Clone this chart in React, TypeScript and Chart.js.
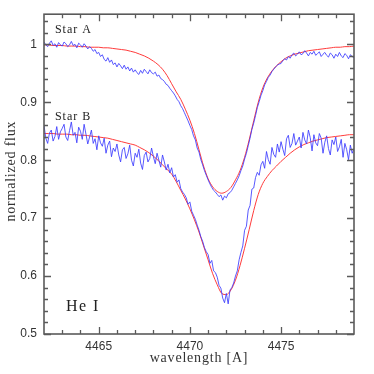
import React, { useEffect, useRef } from "react";
import { Chart, registerables } from "chart.js";

Chart.register(...registerables);

// wavelength grid of the observed spectra and of the model fits
const WAVE_START = 4462.0;
const OBS_STEP = 0.1;
const MODEL_STEP = 0.25;

// observed normalized flux, Star A (4462.0 .. 4479.0, every 0.1 A)
const starAObserved = [
  1.004, 0.999, 0.996, 1.002, 1.006, 0.998, 1.001, 0.995, 1.003, 0.999,
  0.997, 1.004, 1.001, 0.996, 0.999, 1.005, 0.998, 1.000, 0.994, 1.002,
  0.999, 0.995, 1.001, 0.997, 0.992, 0.996, 0.993, 0.988, 0.991, 0.984,
  0.986, 0.979, 0.982, 0.974, 0.971, 0.977, 0.969, 0.973, 0.965, 0.968,
  0.961, 0.967, 0.963, 0.958, 0.964, 0.957, 0.961, 0.954, 0.959, 0.952,
  0.956, 0.951, 0.948, 0.955, 0.950, 0.957, 0.953, 0.949, 0.956, 0.951,
  0.949, 0.952, 0.945, 0.947, 0.941, 0.939, 0.936, 0.931, 0.929, 0.924,
  0.920, 0.916, 0.911, 0.905, 0.901, 0.894, 0.889, 0.882, 0.875, 0.868,
  0.860, 0.853, 0.842, 0.835, 0.821, 0.814, 0.801, 0.792, 0.782, 0.774,
  0.766, 0.759, 0.753, 0.748, 0.745, 0.741, 0.737, 0.740, 0.731, 0.738,
  0.735, 0.742, 0.744, 0.748, 0.754, 0.760, 0.766, 0.773, 0.782, 0.790,
  0.802, 0.812, 0.825, 0.838, 0.853, 0.864, 0.877, 0.891, 0.901, 0.912,
  0.920, 0.930, 0.936, 0.943, 0.947, 0.953, 0.957, 0.961, 0.964, 0.966,
  0.967, 0.972, 0.975, 0.973, 0.979, 0.976, 0.982, 0.985, 0.980, 0.983,
  0.987, 0.982, 0.984, 0.989, 0.985, 0.980, 0.986, 0.983, 0.988, 0.981,
  0.984, 0.987, 0.979, 0.983, 0.986, 0.981, 0.978, 0.985, 0.982, 0.976,
  0.983, 0.979, 0.986, 0.980, 0.977, 0.984, 0.981, 0.975, 0.982, 0.979,
  0.977,
];

// observed normalized flux, Star B (4462.0 .. 4479.0, every 0.1 A)
const starBObserved = [
  0.860, 0.838, 0.829, 0.847, 0.852, 0.833, 0.841, 0.858, 0.836, 0.849,
  0.855, 0.862, 0.840, 0.834, 0.851, 0.866, 0.843, 0.848, 0.830, 0.857,
  0.850, 0.836, 0.862, 0.845, 0.828, 0.840, 0.852, 0.829, 0.837, 0.818,
  0.842, 0.830, 0.824, 0.838, 0.812, 0.826, 0.833, 0.806, 0.821, 0.815,
  0.828, 0.809, 0.797, 0.818, 0.822, 0.803, 0.811, 0.826, 0.800, 0.790,
  0.812, 0.805, 0.819, 0.795, 0.784, 0.808, 0.814, 0.797, 0.803, 0.821,
  0.806, 0.794, 0.812, 0.800, 0.788, 0.809, 0.797, 0.783, 0.793, 0.778,
  0.787, 0.771, 0.775, 0.762, 0.766, 0.751, 0.745, 0.741, 0.735, 0.724,
  0.728, 0.712, 0.705, 0.698, 0.688, 0.679, 0.668, 0.660, 0.649, 0.642,
  0.637, 0.622, 0.627, 0.609, 0.606, 0.598, 0.584, 0.579, 0.562, 0.554,
  0.570, 0.552, 0.576, 0.580, 0.588, 0.600, 0.609, 0.628, 0.641, 0.652,
  0.679, 0.686, 0.714, 0.722, 0.750, 0.752, 0.770, 0.779, 0.774, 0.792,
  0.798, 0.786, 0.815, 0.801, 0.793, 0.822, 0.810, 0.805, 0.828, 0.814,
  0.832, 0.819, 0.808, 0.837, 0.843, 0.822, 0.829, 0.846, 0.826, 0.833,
  0.840, 0.821, 0.848, 0.835, 0.828, 0.852, 0.839, 0.816, 0.844, 0.830,
  0.825, 0.846, 0.838, 0.812, 0.831, 0.842, 0.820, 0.809, 0.835, 0.827,
  0.840, 0.815, 0.823, 0.836, 0.805, 0.829, 0.818, 0.801, 0.826, 0.812,
  0.820,
];

// model fit, Star A (4462.0 .. 4479.0, every 0.25 A)
const starAModel = [
  0.999, 0.999, 0.998, 0.998, 0.998, 0.997, 0.997, 0.997, 0.996, 0.996,
  0.995, 0.995, 0.995, 0.994, 0.994, 0.993, 0.992, 0.991, 0.990, 0.988,
  0.986, 0.983, 0.980, 0.976, 0.971, 0.965, 0.957, 0.946, 0.932, 0.918,
  0.905, 0.888, 0.869, 0.846, 0.818, 0.790, 0.768, 0.754, 0.746, 0.743,
  0.746, 0.753, 0.766, 0.782, 0.805, 0.835, 0.868, 0.900, 0.925, 0.942,
  0.954, 0.963, 0.970, 0.976, 0.980, 0.983, 0.985, 0.987, 0.989, 0.990,
  0.991, 0.992, 0.993, 0.994, 0.995, 0.995, 0.996, 0.996, 0.997,
];

// model fit, Star B (4462.0 .. 4479.0, every 0.25 A)
const starBModel = [
  0.846, 0.846, 0.846, 0.845, 0.845, 0.845, 0.844, 0.844, 0.843, 0.843,
  0.842, 0.841, 0.840, 0.839, 0.838, 0.836, 0.834, 0.832, 0.830, 0.828,
  0.826, 0.822, 0.818, 0.813, 0.807, 0.800, 0.792, 0.784, 0.776, 0.763,
  0.748, 0.733, 0.716, 0.697, 0.676, 0.652, 0.628, 0.604, 0.585, 0.570,
  0.568, 0.576, 0.593, 0.618, 0.648, 0.680, 0.713, 0.741, 0.760, 0.772,
  0.782, 0.790, 0.798, 0.805, 0.812, 0.818, 0.823, 0.827, 0.830, 0.833,
  0.835, 0.837, 0.839, 0.840, 0.841, 0.842, 0.843, 0.844, 0.844,
];

const X_MIN = 4462;
const X_MAX = 4479;
const Y_MIN = 0.5;
const Y_MAX = 1.052;
const X_TICKS = [4465, 4470, 4475];
const X_MINOR = [4463, 4464, 4466, 4467, 4468, 4469, 4471, 4472, 4473, 4474, 4476, 4477, 4478];
const Y_TICKS = [0.5, 0.6, 0.7, 0.8, 0.9, 1];
const Y_MINOR = [
  0.52, 0.54, 0.56, 0.58, 0.62, 0.64, 0.66, 0.68, 0.72, 0.74, 0.76, 0.78,
  0.82, 0.84, 0.86, 0.88, 0.92, 0.94, 0.96, 0.98, 1.02, 1.04,
];

const LABELS = [
  { text: "Star A", x: 4462.6, y: 1.019, size: 12 },
  { text: "Star B", x: 4462.6, y: 0.869, size: 12 },
  { text: "He I", x: 4463.2, y: 0.54, size: 16 },
];
const X_TITLE = "wavelength [A]";
const Y_TITLE = "normalized flux";

function toPoints(values: number[], step: number) {
  return values.map((v, i) => ({ x: WAVE_START + i * step, y: v }));
}

const framePlugin = {
  id: "frameTicks",
  afterDatasetsDraw(chart: any) {
    const { ctx, chartArea, scales } = chart;
    const { left, right, top, bottom } = chartArea;
    const xs = scales.x;
    const ys = scales.y;
    ctx.save();
    ctx.strokeStyle = "#5a5a5a";
    ctx.lineWidth = 1.3;
    ctx.beginPath();
    const tick = (vals: number[], len: number) => {
      vals.forEach((v) => {
        const px = Math.round(xs.getPixelForValue(v)) + 0.5;
        ctx.moveTo(px, bottom);
        ctx.lineTo(px, bottom - len);
        ctx.moveTo(px, top);
        ctx.lineTo(px, top + len);
      });
    };
    const ytick = (vals: number[], len: number) => {
      vals.forEach((v) => {
        const py = Math.round(ys.getPixelForValue(v)) + 0.5;
        ctx.moveTo(left, py);
        ctx.lineTo(left + len, py);
        ctx.moveTo(right, py);
        ctx.lineTo(right - len, py);
      });
    };
    tick(X_TICKS, 7);
    tick(X_MINOR, 4);
    ytick(Y_TICKS, 7);
    ytick(Y_MINOR, 4);
    ctx.stroke();
    ctx.lineWidth = 1.6;
    ctx.strokeRect(left, top, right - left, bottom - top);
    ctx.restore();
  },
  afterDraw(chart: any) {
    const { ctx, chartArea, scales } = chart;
    ctx.save();
    ctx.fillStyle = "#222";
    ctx.textAlign = "left";
    ctx.textBaseline = "alphabetic";
    LABELS.forEach((l) => {
      ctx.font = `${l.size}px "Liberation Serif", serif`;
      (ctx as any).letterSpacing = l.size > 13 ? "1.5px" : "1px";
      ctx.fillText(l.text, scales.x.getPixelForValue(l.x), scales.y.getPixelForValue(l.y));
    });
    ctx.fillStyle = "#333";
    ctx.font = `14px "Liberation Serif", serif`;
    (ctx as any).letterSpacing = "0.8px";
    ctx.textAlign = "center";
    ctx.fillText(X_TITLE, (chartArea.left + chartArea.right) / 2, chartArea.bottom + 28);
    ctx.translate(11, (chartArea.top + chartArea.bottom) / 2 - 3);
    ctx.rotate(-Math.PI / 2);
    ctx.textBaseline = "middle";
    ctx.fillText(Y_TITLE, 0, 0);
    ctx.restore();
  },
};

export default function App() {
  const ref = useRef<HTMLCanvasElement | null>(null);
  useEffect(() => {
    if (!ref.current) return;
    const chart = new Chart(ref.current, {
      type: "line",
      data: {
        datasets: [
          {
            data: toPoints(starAObserved, OBS_STEP),
            borderColor: "rgba(60,60,255,0.85)",
            borderWidth: 1,
            pointRadius: 0,
            tension: 0,
          },
          {
            data: toPoints(starBObserved, OBS_STEP),
            borderColor: "rgba(60,60,255,0.85)",
            borderWidth: 1,
            pointRadius: 0,
            tension: 0,
          },
          {
            data: toPoints(starAModel, MODEL_STEP),
            borderColor: "#ff3b3b",
            borderWidth: 1,
            pointRadius: 0,
            cubicInterpolationMode: "monotone",
          },
          {
            data: toPoints(starBModel, MODEL_STEP),
            borderColor: "#ff3b3b",
            borderWidth: 1,
            pointRadius: 0,
            cubicInterpolationMode: "monotone",
          },
        ],
      },
      options: {
        animation: false,
        responsive: false,
        layout: { padding: { left: 0, top: 14, right: 20, bottom: 0 } },
        plugins: { legend: { display: false }, tooltip: { enabled: false } },
        scales: {
          x: {
            type: "linear",
            min: X_MIN,
            max: X_MAX,
            grid: { display: false, drawTicks: false },
            border: { display: false },
            afterBuildTicks: (s: any) => {
              s.ticks = X_TICKS.map((v) => ({ value: v }));
            },
            afterFit: (s: any) => {
              s.height = 40;
            },
            ticks: {
              padding: 5,
              maxRotation: 0,
              autoSkip: false,
              color: "#333",
              font: { family: "Liberation Sans", size: 12 },
              callback: (v: any) => String(v),
            },
          },
          y: {
            type: "linear",
            min: Y_MIN,
            max: Y_MAX,
            grid: { display: false, drawTicks: false },
            border: { display: false },
            afterBuildTicks: (s: any) => {
              s.ticks = Y_TICKS.map((v) => ({ value: v }));
            },
            afterFit: (s: any) => {
              s.width = 44;
            },
            ticks: {
              padding: 7,
              autoSkip: false,
              color: "#333",
              font: { family: "Liberation Sans", size: 12 },
              callback: (v: any) => String(v),
            },
          },
        },
      },
      plugins: [framePlugin],
    } as any);
    return () => chart.destroy();
  }, []);
  return (
    <div style={{ position: "absolute", left: 0, top: 0, width: 374, height: 374, background: "#fff" }}>
      <canvas ref={ref} width={374} height={374} />
    </div>
  );
}
